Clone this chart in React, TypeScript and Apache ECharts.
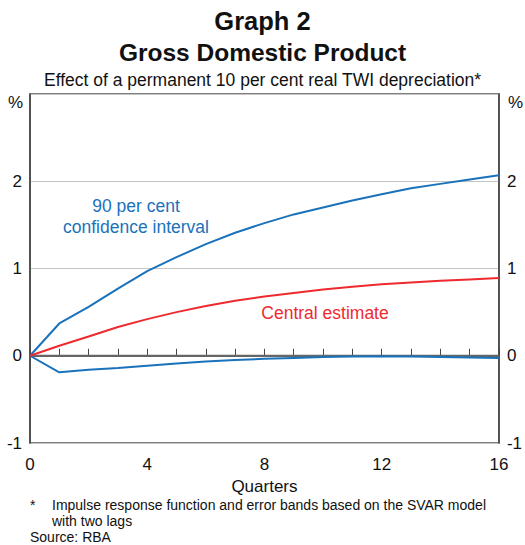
import React, { useEffect, useRef } from "react";
import * as echarts from "echarts";

const quarters = [0, 1, 2, 3, 4, 5, 6, 7, 8, 9, 10, 11, 12, 13, 14, 15, 16];
const upperCI = [0, 0.37, 0.56, 0.77, 0.97, 1.13, 1.28, 1.41, 1.52, 1.62, 1.7, 1.78, 1.85, 1.92, 1.97, 2.02, 2.07];
const central = [0, 0.115, 0.22, 0.33, 0.42, 0.5, 0.57, 0.63, 0.68, 0.72, 0.76, 0.79, 0.82, 0.84, 0.86, 0.875, 0.89];
const lowerCI = [0, -0.19, -0.16, -0.14, -0.115, -0.09, -0.065, -0.05, -0.035, -0.025, -0.015, -0.01, -0.005, -0.01, -0.015, -0.02, -0.025];
const yTickLabels = ["-1", "0", "1", "2"];
const xTickLabels = ["0", "4", "8", "12", "16"];

const BLUE = "#1a72bb";
const RED = "#ee2a2f";
const FONT = "Liberation Sans, Arial, sans-serif";

export default function App() {
  const ref = useRef<HTMLDivElement>(null);
  useEffect(() => {
    if (!ref.current) return;
    const chart = echarts.init(ref.current, undefined, { renderer: "svg" });
    const pair = (arr: number[]) => quarters.map((q, i) => [q, arr[i]]);
    const yLabel = (v: number) => (yTickLabels.includes(String(v)) ? String(v) : "");
    chart.setOption({
      animation: false,
      backgroundColor: "#ffffff",
      textStyle: { fontFamily: FONT },
      title: [
        { text: "Graph 2", left: "center", top: 3, textStyle: { fontFamily: FONT, fontSize: 25.5, fontWeight: "bold", color: "#111" } },
        { text: "Gross Domestic Product", left: "center", top: 35, textStyle: { fontFamily: FONT, fontSize: 24.5, fontWeight: "bold", color: "#111" } },
        { text: "Effect of a permanent 10 per cent real TWI depreciation*", left: "center", top: 66, textStyle: { fontFamily: FONT, fontSize: 17.5, fontWeight: "normal", color: "#111" } },
      ],
      grid: { left: 30, right: 23, top: 94, bottom: 102, show: true, borderColor: "#555", borderWidth: 1.5, backgroundColor: "transparent" },
      xAxis: {
        type: "value",
        min: 0,
        max: 16,
        interval: 1,
        axisLine: { show: true, lineStyle: { color: "#444", width: 1.5 } },
        axisTick: { show: true, inside: true, length: 7, lineStyle: { color: "#444", width: 1 } },
        splitLine: { show: false },
        axisLabel: {
          fontSize: 17,
          color: "#111",
          margin: 13,
          fontFamily: FONT,
          formatter: (v: number) => (xTickLabels.includes(String(v)) ? String(v) : ""),
        },
        name: "Quarters",
        nameLocation: "middle",
        nameGap: 29,
        nameTextStyle: { fontSize: 17, color: "#111", fontFamily: FONT },
      },
      yAxis: [
        {
          type: "value",
          min: -1,
          max: 3,
          interval: 1,
          position: "left",
          axisLine: { show: true, lineStyle: { color: "#444", width: 1.5 } },
          axisTick: { show: false },
          splitLine: { show: true, lineStyle: { color: "#c4c4c4", width: 1 } },
          axisLabel: { fontSize: 17, color: "#111", margin: 8, fontFamily: FONT, formatter: yLabel },
        },
        {
          type: "value",
          min: -1,
          max: 3,
          interval: 1,
          position: "right",
          axisLine: { show: true, lineStyle: { color: "#444", width: 1.5 } },
          axisTick: { show: false },
          splitLine: { show: false },
          axisLabel: { fontSize: 17, color: "#111", margin: 8, fontFamily: FONT, formatter: yLabel },
        },
      ],
      series: [
        {
          type: "line",
          data: [[0, 0], [16, 0]],
          symbol: "none",
          silent: true,
          lineStyle: { color: "#666", width: 2 },
          z: 1,
        },
        { type: "line", data: pair(upperCI), symbol: "none", smooth: false, lineStyle: { color: BLUE, width: 2 }, z: 3 },
        { type: "line", data: pair(lowerCI), symbol: "none", smooth: false, lineStyle: { color: BLUE, width: 2 }, z: 3 },
        { type: "line", data: pair(central), symbol: "none", smooth: false, lineStyle: { color: RED, width: 2 }, z: 3 },
      ],
      graphic: [
        { type: "text", left: 8, top: 94, style: { text: "%", fontSize: 17, fill: "#111", fontFamily: FONT } },
        { type: "text", left: 508, top: 94, style: { text: "%", fontSize: 17, fill: "#111", fontFamily: FONT } },
        { type: "text", x: 136, y: 195, style: { text: "90 per cent\nconfidence interval", fontSize: 17.5, lineHeight: 21, fill: BLUE, align: "center", fontFamily: FONT } },
        { type: "text", x: 325, y: 304, style: { text: "Central estimate", fontSize: 17.5, fill: RED, align: "center", fontFamily: FONT } },
        { type: "text", left: 30, top: 498, style: { text: "*", fontSize: 14, fill: "#111", fontFamily: FONT } },
        { type: "text", left: 52, top: 497, style: { text: "Impulse response function and error bands based on the SVAR model\nwith two lags", fontSize: 14, lineHeight: 16, fill: "#111", fontFamily: FONT } },
        { type: "text", left: 30, top: 530, style: { text: "Source: RBA", fontSize: 14, fill: "#111", fontFamily: FONT } },
      ],
    });
    return () => chart.dispose();
  }, []);
  return <div ref={ref} style={{ width: 525, height: 545, position: "absolute", left: 0, top: 0 }} />;
}
